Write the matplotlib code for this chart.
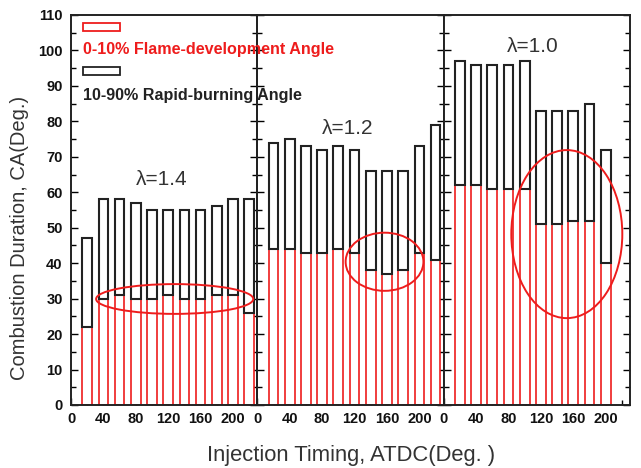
import matplotlib
matplotlib.use("Agg")
import matplotlib.pyplot as plt
from matplotlib.patches import Ellipse, Rectangle
from matplotlib.ticker import MultipleLocator

plt.rcParams['font.family'] = ['Liberation Sans', 'DejaVu Sans']

# ---- data ----
timing_14 = [20, 40, 60, 80, 100, 120, 140, 160, 180, 200, 220]
flame_14 = [22, 30, 31, 30, 30, 31, 30, 30, 31, 31, 26]
total_14 = [47, 58, 58, 57, 55, 55, 55, 55, 56, 58, 58]

timing_12 = [20, 40, 60, 80, 100, 120, 140, 160, 180, 200, 220]
flame_12 = [44, 44, 43, 43, 44, 43, 38, 37, 38, 43, 41]
total_12 = [74, 75, 73, 72, 73, 72, 66, 66, 66, 73, 79]

timing_10 = [20, 40, 60, 80, 100, 120, 140, 160, 180, 200]
flame_10 = [62, 62, 61, 61, 61, 51, 51, 52, 52, 40]
total_10 = [97, 96, 96, 96, 97, 83, 83, 83, 85, 72]

panel_labels = ["λ=1.4", "λ=1.2", "λ=1.0"]
xtick_values = [0, 40, 80, 120, 160, 200]
xtick_labels = ["0", "40", "80", "120", "160", "200"]
legend_labels = ["0-10% Flame-development Angle", "10-90% Rapid-burning Angle"]

panels = [
    (timing_14, flame_14, total_14, panel_labels[0], (112, 63.5), (128, 29.9, 194, 8.4)),
    (timing_12, flame_12, total_12, panel_labels[1], (111, 78), (157, 40.4, 96, 16.4)),
    (timing_10, flame_10, total_10, panel_labels[2], (110, 101), (152, 48.2, 137, 47.4)),
]

RED = "#ee1c1c"
BLK = "#222222"
txtcol = "#333333"

fig = plt.figure(figsize=(6.41, 4.68), dpi=100)
L, R = 71 / 641, 630 / 641
B, T = 1 - 405 / 468, 1 - 15 / 468
pw = (R - L) / 3
bar_w = 12

axes = []
for i, (tm, fl, tot, lab, lpos, ell) in enumerate(panels):
    ax = fig.add_axes([L + i * pw, B, pw, T - B])
    axes.append(ax)
    rapid = [t - f for t, f in zip(tot, fl)]
    ax.bar(tm, fl, width=bar_w, facecolor="white", edgecolor=RED, linewidth=1.2, zorder=2)
    ax.bar(tm, rapid, bottom=fl, width=bar_w, facecolor="white", edgecolor=BLK, linewidth=1.5, zorder=3)
    ax.set_xlim(0, 230)
    ax.set_ylim(0, 110)
    ax.set_xticks(xtick_values)
    ax.set_xticklabels(xtick_labels, fontsize=10.5, fontweight="bold")
    ax.xaxis.set_minor_locator(MultipleLocator(20))
    ax.yaxis.set_major_locator(MultipleLocator(10))
    ax.yaxis.set_minor_locator(MultipleLocator(5))
    ax.tick_params(axis="both", which="both", direction="in", top=False, right=True, labelcolor="#111111")
    ax.tick_params(axis="both", which="major", length=5, width=1.0)
    ax.tick_params(axis="both", which="minor", length=3.5, width=1.0)
    ax.tick_params(axis="x", pad=5)
    for s in ax.spines.values():
        s.set_linewidth(1.4)
        s.set_color(BLK)
    if i == 0:
        ax.set_yticks(range(0, 111, 10))
        ax.tick_params(axis="y", labelsize=10.5, pad=6)
        for t in ax.get_yticklabels():
            t.set_fontweight("bold")
    else:
        ax.tick_params(axis="y", labelleft=False)
    ax.text(lpos[0], lpos[1], lab, fontsize=15, color=txtcol, ha="center", va="center", zorder=5)
    e = Ellipse((ell[0], ell[1]), ell[2], ell[3], fill=False, edgecolor=RED, linewidth=1.4, zorder=6)
    ax.add_patch(e)

fig.text(20 / 641, 1 - 238 / 468, "Combustion Duration, CA(Deg.)", fontsize=14.5, color=txtcol,
         ha="center", va="center", rotation=90)
fig.text(351 / 641, 1 - 455 / 468, "Injection Timing, ATDC(Deg. )", fontsize=15.8, color=txtcol,
         ha="center", va="center")

# legend (manual, spanning panels like original)
ax0 = axes[0]
ax0.set_zorder(5)
ax0.patch.set_alpha(0)
ax0.add_patch(Rectangle((15, 105.5), 46, 2.3, facecolor="white",
                        edgecolor=RED, linewidth=1.3, zorder=7, clip_on=False))
ax0.text(15, 100.4, legend_labels[0], color=RED, fontsize=11.6, fontweight="bold",
         ha="left", va="center", zorder=7, clip_on=False)
ax0.add_patch(Rectangle((15, 93.1), 46, 2.3, facecolor="white",
                        edgecolor=BLK, linewidth=1.3, zorder=7, clip_on=False))
ax0.text(15, 87.4, legend_labels[1], color=BLK, fontsize=11.6, fontweight="bold",
         ha="left", va="center", zorder=7, clip_on=False)

fig.savefig("out.png", dpi=100)
